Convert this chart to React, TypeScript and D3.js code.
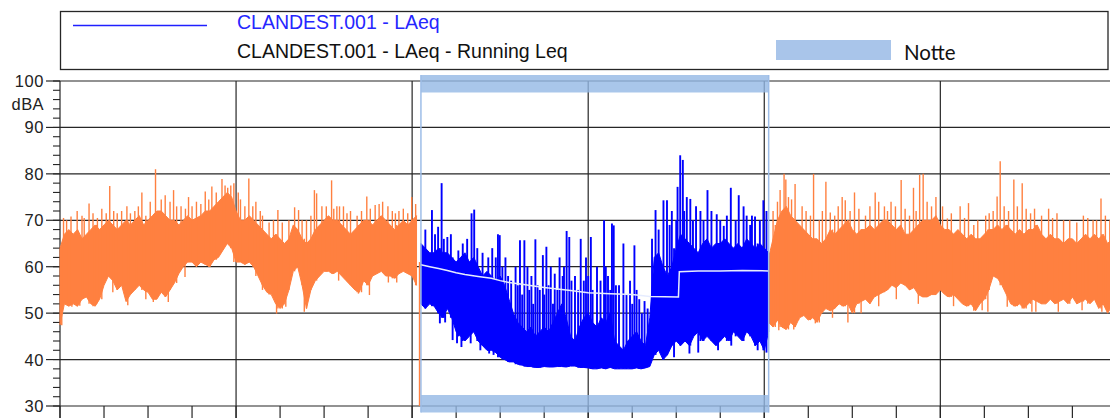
import React from 'react';
import * as d3 from 'd3';

// ---------- data (hours from the first grid line, dBA) ----------
const STEP = 0.1;

const orange1Start = 0;
const orange1Hi = [
  64, 67, 68, 67, 68, 66, 67, 68, 69, 68,
  69, 70, 69, 68, 69, 70, 69, 70, 71, 69,
  70, 71, 72, 72, 71, 70, 70, 69, 70, 71,
  70, 70.5, 71, 72, 72, 73, 74, 75, 76, 75,
  72, 70, 70, 71, 70, 69, 68, 67, 66, 67,
  66, 65, 66, 69, 68, 66, 65, 66, 68, 69,
  70, 71, 70, 70, 69, 68, 67, 68, 69, 70,
  70, 69, 70, 71, 70, 69, 68, 69, 70, 69,
  70, 71,
];
const orange1Lo = [
  47.5, 52, 51.5, 52, 51.5, 53, 53.5, 52, 51.5, 53,
  56, 58, 57, 55, 56, 52.5, 54, 55, 56, 55,
  54.5, 53, 53, 54.5, 53.5, 55, 56.5, 58.5, 60, 61,
  61, 60, 61, 60.5, 60, 61.5, 62, 63.5, 65, 64,
  61, 61, 60.5, 61, 60, 58, 56, 54.5, 54, 52,
  51, 52, 55, 59, 60, 56, 51, 55, 57, 58,
  59, 59, 58.5, 59, 58, 57, 56, 55, 54.5, 57,
  56, 58, 58.5, 59, 58, 58, 57.5, 58.5, 59, 58.5,
  58, 56,
];
const orange1Spikes: [number, number][] = [
  [0.08, 70.5], [0.15, 70], [0.25, 70.8], [0.39, 72], [0.5, 71], [0.55, 70.5],
  [0.66, 73.6], [0.75, 71.5], [0.85, 70.5], [0.95, 72.5], [1.05, 71.5], [1.13, 77.4],
  [1.22, 72], [1.3, 71.5], [1.4, 72], [1.52, 73], [1.6, 71.5], [1.7, 72],
  [1.78, 73], [1.86, 76], [1.95, 71], [2.05, 74], [2.17, 81], [2.3, 74.5],
  [2.39, 75.4], [2.5, 74], [2.58, 76.5], [2.65, 73], [2.75, 73], [2.85, 72.5],
  [2.92, 75], [3.0, 73], [3.1, 74], [3.2, 73.5], [3.3, 76.2], [3.38, 74.5],
  [3.45, 77.3], [3.55, 76], [3.68, 78.9], [3.75, 77.5], [3.81, 77], [3.88, 77.5],
  [3.95, 78], [4.05, 76], [4.1, 74.5], [4.2, 73], [4.29, 79], [4.38, 73],
  [4.45, 74], [4.55, 72], [4.6, 71], [4.75, 69.5], [4.85, 70], [4.95, 72.2],
  [5.05, 69.5], [5.2, 70], [5.33, 72.8], [5.42, 72.2], [5.5, 70], [5.6, 70],
  [5.7, 71], [5.78, 76.5], [5.83, 75.8], [5.95, 73], [6.05, 73], [6.17, 78.6],
  [6.22, 72.5], [6.29, 73], [6.35, 73], [6.44, 73], [6.52, 71.5], [6.6, 72],
  [6.75, 71], [6.85, 72], [6.97, 75.1], [7.05, 72.5], [7.16, 73.3], [7.25, 73.5],
  [7.33, 74], [7.45, 73], [7.55, 72], [7.62, 71.5], [7.7, 72], [7.8, 72.5],
  [7.9, 71.5], [7.99, 75], [8.08, 73.5],
];
const orange1Dips: [number, number][] = [
  [0.04, 47.4], [0.27, 51.4], [0.45, 51.6], [0.83, 52], [1.2, 54.5], [1.54, 51.7],
  [1.95, 53], [2.12, 52.4], [2.46, 52.4], [2.84, 57.8], [3.41, 60], [4.6, 55],
  [4.92, 49.9], [5.13, 51.4], [5.55, 50.3], [6.33, 57], [6.78, 54.2], [7.03, 53.9],
  [7.46, 56.6], [7.65, 56.6],
];
const orangeDrop: [number, number][] = [[8.17, 61], [8.17, 30]];

const blueStart = 8.2;
const blueHi = [
  65, 64, 63, 63, 64, 63, 63, 62, 61, 62,
  63, 61, 62, 60, 58, 59, 58, 57, 58, 56,
  53, 50, 48, 47, 46, 47, 45, 46, 47, 46,
  48, 50, 52, 49, 45, 44, 47, 49, 50, 48,
  47, 49, 48, 50, 44, 43, 42, 44, 45, 46,
  44, 43, 49, 62, 63, 60, 58, 60, 64, 67,
  66, 65, 64, 63, 65, 66, 64, 65, 65, 66,
  65, 64, 65, 64, 66, 65, 64, 65, 64, 63,
];
const blueLo = [
  52, 51, 52, 51.5, 50, 49, 51, 49, 46, 45,
  44, 45, 46, 44, 43, 42, 42, 41.5, 40.5, 40,
  39.5, 39.5, 39, 38.8, 38.5, 38.5, 38.3, 38.3, 38.5, 38.4,
  38.4, 38.5, 38.5, 38.4, 38.6, 38.6, 38.3, 38.3, 38.2, 38,
  38, 38.2, 38, 38.3, 38, 38, 38, 38, 38, 38.2,
  38, 38.2, 38.5, 41, 42, 40, 41, 43, 44, 43,
  44, 43, 45, 46, 44, 45, 44, 43, 44, 45,
  44, 46, 45, 44, 46, 45, 43, 44, 42, 46,
];
const blueSpikes: [number, number][] = [
  [8.3, 68], [8.45, 72.2], [8.52, 67], [8.59, 68.6], [8.67, 78], [8.72, 66],
  [8.8, 66.4], [8.88, 67], [9.05, 63.5], [9.15, 65], [9.25, 66], [9.35, 71.5],
  [9.41, 72.3], [9.48, 64], [9.6, 63], [9.73, 62], [9.82, 64], [9.9, 62],
  [9.95, 67], [9.99, 66.8], [10.05, 60], [10.12, 62], [10.18, 58], [10.25, 57],
  [10.35, 60], [10.4, 56], [10.45, 65.7], [10.5, 54], [10.55, 65.7], [10.62, 60],
  [10.66, 55], [10.71, 58], [10.75, 52], [10.8, 65.9], [10.85, 56], [10.9, 55],
  [10.97, 62.5], [11.0, 54], [11.05, 64.3], [11.1, 56], [11.15, 60], [11.2, 52],
  [11.24, 58.5], [11.3, 55], [11.35, 62], [11.42, 58], [11.45, 60], [11.51, 67.7],
  [11.57, 66.4], [11.62, 57], [11.7, 58], [11.77, 55], [11.83, 66], [11.9, 57],
  [11.95, 62], [12.0, 58], [12.06, 66.4], [12.1, 55], [12.2, 60], [12.28, 57],
  [12.36, 70], [12.4, 60], [12.45, 58], [12.5, 55], [12.54, 69.3], [12.58, 68.9],
  [12.63, 56], [12.7, 56], [12.8, 65], [12.87, 54], [12.95, 57], [13.0, 52],
  [13.05, 64.6], [13.1, 55], [13.16, 53], [13.22, 50], [13.28, 52.6], [13.35, 51],
  [13.45, 66], [13.53, 72.2], [13.6, 68], [13.71, 74.3], [13.79, 74.3], [13.85, 69],
  [13.9, 72], [14.0, 70], [14.03, 77.2], [14.09, 84], [14.15, 83], [14.18, 72],
  [14.24, 75], [14.32, 74.6], [14.38, 70], [14.45, 73], [14.55, 72], [14.62, 70],
  [14.71, 76.5], [14.8, 72], [14.92, 71.3], [15.0, 70], [15.08, 68.8], [15.15, 71],
  [15.24, 77], [15.35, 70], [15.42, 75.4], [15.53, 73], [15.6, 71], [15.68, 69],
  [15.72, 71], [15.79, 70.8], [15.9, 70], [15.98, 74.3], [16.05, 72],
];
const blueDips: [number, number][] = [
  [8.63, 47.8], [8.75, 48], [8.92, 44.2], [9.02, 43.5], [9.12, 42.7], [9.33, 43.5],
  [9.55, 42], [9.75, 41.3], [9.85, 41], [13.7, 40], [13.95, 40.5], [14.3, 41.3],
  [14.5, 41.5], [14.95, 42], [15.25, 43], [15.85, 42], [16.05, 41.5],
];

const orange2Start = 16.1;
const orange2Hi = [
  62, 66, 70, 72, 73, 71, 70, 69, 68, 67,
  66, 66, 65, 66, 68, 67, 68, 69, 70, 68,
  67, 68, 68, 69, 68, 69, 70, 70, 69, 68,
  69, 67, 67, 68, 69, 70, 70, 70, 71, 69,
  68, 68, 67, 68, 67, 66, 67, 66, 66, 67,
  68, 68, 69, 68, 69, 68, 67, 68, 67, 68,
  68, 69, 67, 66, 67, 66, 66, 65, 66, 66,
  65, 66, 67, 66, 67, 66, 67, 65, 66,
];
const orange2Lo = [
  48, 47, 48.5, 47, 46.5, 48, 47, 49, 49.5, 48.5,
  49, 48, 50, 51, 50.5, 51, 52, 51.5, 52, 50,
  52, 52.5, 53, 52, 53.5, 54, 54.5, 55, 56, 55.5,
  56.5, 56, 55, 55.5, 54, 53.5, 53.5, 54, 54, 55,
  54, 53.5, 54, 53, 52, 51.5, 52, 50.5, 52, 53,
  55, 58, 57.5, 56, 54, 52, 51.5, 52, 51, 52,
  53, 52.5, 52, 52, 53, 52, 52.5, 53, 52, 53.5,
  52, 52.5, 53, 52, 53, 51, 52, 50, 51.5,
];
const orange2Spikes: [number, number][] = [
  [16.2, 72], [16.25, 69], [16.3, 74], [16.36, 76.5], [16.45, 80], [16.49, 78.8],
  [16.55, 75], [16.62, 74.5], [16.7, 77.8], [16.86, 73], [16.95, 72], [17.05, 71],
  [17.12, 80], [17.25, 70], [17.32, 72], [17.4, 78.3], [17.5, 71.7], [17.6, 71],
  [17.68, 73], [17.77, 75], [17.84, 74.3], [17.95, 72], [18.05, 76], [18.15, 72.5],
  [18.3, 71], [18.4, 73], [18.52, 76], [18.6, 74], [18.73, 73], [18.8, 72],
  [18.88, 74], [18.98, 73], [19.11, 78.7], [19.2, 72.5], [19.3, 71], [19.39, 77],
  [19.45, 72], [19.53, 79.8], [19.61, 80], [19.7, 74], [19.8, 73], [19.9, 75],
  [20.05, 73], [20.16, 70.4], [20.25, 71.5], [20.45, 73], [20.55, 70.5], [20.64, 73.7],
  [20.76, 69], [20.85, 70], [21.03, 71], [21.11, 71.5], [21.2, 72], [21.29, 75.1],
  [21.36, 82.7], [21.45, 73], [21.55, 72], [21.67, 78.8], [21.75, 73], [21.86, 78],
  [21.95, 72.5], [22.05, 71.5], [22.14, 72.5], [22.3, 71], [22.46, 72.5], [22.55, 70.5],
  [22.65, 71.5], [22.8, 70], [22.94, 70], [23.1, 69.5], [23.25, 71], [23.35, 70.5],
  [23.47, 70], [23.55, 70], [23.65, 74.7], [23.75, 71], [23.85, 70],
];
const orange2Dips: [number, number][] = [
  [16.33, 46.3], [16.67, 46.5], [16.78, 48.5], [17.16, 47.8], [17.55, 49], [17.9, 48],
  [18.2, 50], [18.6, 51.5], [19.0, 53], [19.5, 52], [20.3, 51.5], [20.95, 50.6],
  [21.08, 50.3], [21.52, 51.4], [22.08, 50.3], [22.17, 50.3], [22.68, 50.3], [23.22, 50.6],
  [23.67, 50.3], [23.8, 50.3],
];

const runningLeq: [number, number][] = [
  [8.2, 60.4], [8.4, 60], [8.6, 59.6], [8.8, 59.2], [9.0, 58.7], [9.2, 58.3],
  [9.5, 57.9], [9.8, 57.5], [10.0, 57], [10.2, 56.6], [10.5, 56.2], [10.8, 55.8],
  [11.0, 55.5], [11.3, 55.2], [11.6, 54.9], [12.0, 54.4], [12.5, 54.2], [13.0, 54.0],
  [13.4, 53.6], [14.05, 53.5], [14.07, 58.9], [14.5, 59.1], [15.0, 59.1],
  [15.5, 59.2], [16.1, 59.1],
];

const nightStart = 8.2;
const nightEnd = 16.1;
const yMajorTicks = [30, 40, 50, 60, 70, 80, 90, 100];
const yMinorTicks = d3.range(30, 101, 2);
const xMajorHours = [0, 4, 8, 12, 16, 20, 24];
const xMinorHours = d3.range(0, 25, 1);

const legendLabels = ['CLANDEST.001 - LAeq', 'CLANDEST.001 - LAeq - Running Leq'];
const nightLabel = 'Notte';

// ---------- styles ----------
const W = 1110;
const H = 418;
const ORANGE = '#ff8040';
const BLUE = '#0000ff';
const GRID = '#262626';
const NIGHT = '#94b8e5';
const FONT = "'Liberation Sans', Arial, sans-serif";

const x = d3.scaleLinear().domain([0, 24]).range([60, 1116.4]);
const y = d3.scaleLinear().domain([30, 100]).range([406, 81]);

type Pt = { t: number; hi: number; lo: number };

function bandPath(start: number, hi: number[], lo: number[]) {
  const pts: Pt[] = hi.map((v, i) => ({ t: start + i * STEP, hi: v, lo: lo[i] }));
  return d3
    .area<Pt>()
    .x((d) => x(d.t))
    .y0((d) => y(d.lo))
    .y1((d) => y(d.hi))(pts) as string;
}

function nearest(start: number, arr: number[], t: number) {
  const idx = Math.max(0, Math.min(arr.length - 1, Math.round((t - start) / STEP)));
  return arr[idx];
}

function spikeLines(
  start: number,
  baseArr: number[],
  spikes: [number, number][],
  color: string,
  key: string,
  width: number,
) {
  return spikes.map(([t, v], i) => (
    <line
      key={key + i}
      x1={x(t)}
      x2={x(t)}
      y1={y(v)}
      y2={y(nearest(start, baseArr, t))}
      stroke={color}
      strokeWidth={width}
    />
  ));
}

export default function App() {
  const plotLeft = x(0);
  const plotTop = y(100);
  const plotBottom = y(30);
  const nx0 = x(nightStart);
  const nx1 = x(nightEnd);

  const line = d3
    .line<[number, number]>()
    .x((d) => x(d[0]))
    .y((d) => y(d[1]));

  return (
    <svg
      width={W}
      height={H}
      style={{ position: 'absolute', left: 0, top: 0, display: 'block', background: '#fff' }}
      fontFamily={FONT}
    >
      <rect x={0} y={0} width={W} height={H} fill="#fff" />

      {/* legend */}
      <rect x={60.5} y={11.5} width={1047.5} height={58} fill="#fff" stroke={GRID} strokeWidth={1.3} />
      <line x1={73} x2={207} y1={25.5} y2={25.5} stroke="#2020ff" strokeWidth={1.6} />
      <text x={237} y={29} fontSize={19.5} fill="#2626ff">{legendLabels[0]}</text>
      <text x={237} y={57.5} fontSize={19.5} fill="#111">{legendLabels[1]}</text>
      <rect x={776} y={40} width={115} height={20} fill="#a9c5ea" />
      <text x={904} y={60} fontSize={20.5} fontFamily="Lato, 'Open Sans', sans-serif" fill="#111">{nightLabel}</text>

      {/* horizontal grid */}
      {yMajorTicks.map((v) => (
        <line key={'hg' + v} x1={plotLeft} x2={W} y1={y(v)} y2={y(v)} stroke={GRID} strokeWidth={1.2} />
      ))}
      {/* vertical grid */}
      {xMajorHours.map((h) => (
        <line key={'vg' + h} x1={x(h)} x2={x(h)} y1={plotTop} y2={H} stroke={GRID} strokeWidth={1.2} />
      ))}
      {/* bottom minor ticks */}
      {xMinorHours.map((h) => (
        <line key={'xt' + h} x1={x(h)} x2={x(h)} y1={plotBottom} y2={H} stroke={GRID} strokeWidth={1.2} />
      ))}
      {/* y ticks */}
      {yMinorTicks.map((v) => (
        <line key={'ymt' + v} x1={53} x2={plotLeft} y1={y(v)} y2={y(v)} stroke={GRID} strokeWidth={1.1} />
      ))}
      {yMajorTicks.map((v) => (
        <line key={'yMt' + v} x1={46} x2={plotLeft} y1={y(v)} y2={y(v)} stroke={GRID} strokeWidth={1.2} />
      ))}
      {yMajorTicks.map((v) => (
        <text key={'yl' + v} x={44} y={y(v) + 6} fontSize={16.5} textAnchor="end" fill="#222" letterSpacing={0.6}>
          {v}
        </text>
      ))}
      <text x={44} y={110} fontSize={16.5} textAnchor="end" fill="#222" letterSpacing={0.4}>dBA</text>

      {/* series */}
      <path d={bandPath(orange1Start, orange1Hi, orange1Lo)} fill={ORANGE} stroke={ORANGE} strokeWidth={1} />
      {spikeLines(orange1Start, orange1Lo, orange1Spikes, ORANGE, 'o1', 1.4)}
      {spikeLines(orange1Start, orange1Hi, orange1Dips, ORANGE, 'o1d', 1.4)}
      <path d={line(orangeDrop) as string} stroke={ORANGE} strokeWidth={1.6} fill="none" />

      <path d={bandPath(orange2Start, orange2Hi, orange2Lo)} fill={ORANGE} stroke={ORANGE} strokeWidth={1} />
      {spikeLines(orange2Start, orange2Lo, orange2Spikes, ORANGE, 'o2', 1.4)}
      {spikeLines(orange2Start, orange2Hi, orange2Dips, ORANGE, 'o2d', 1.4)}

      <path d={bandPath(blueStart, blueHi, blueLo)} fill={BLUE} stroke={BLUE} strokeWidth={1} />
      {spikeLines(blueStart, blueLo, blueSpikes, BLUE, 'b', 1.9)}
      {spikeLines(blueStart, blueHi, blueDips, BLUE, 'bd', 1.9)}

      <path d={line(runningLeq) as string} stroke="#e6ecff" strokeWidth={1.5} fill="none" />

      {/* night period */}
      <rect x={nx0} y={plotTop - 6} width={nx1 - nx0} height={17.5} fill={NIGHT} opacity={0.8} />
      <rect x={nx0} y={plotBottom - 11} width={nx1 - nx0} height={17.5} fill={NIGHT} opacity={0.8} />
      <line x1={nx0} x2={nx0} y1={plotTop - 6} y2={plotBottom + 6.5} stroke="#9dbde8" strokeWidth={1.5} />
      <line x1={nx1} x2={nx1} y1={plotTop - 6} y2={plotBottom + 6.5} stroke="#9dbde8" strokeWidth={1.5} />
    </svg>
  );
}
